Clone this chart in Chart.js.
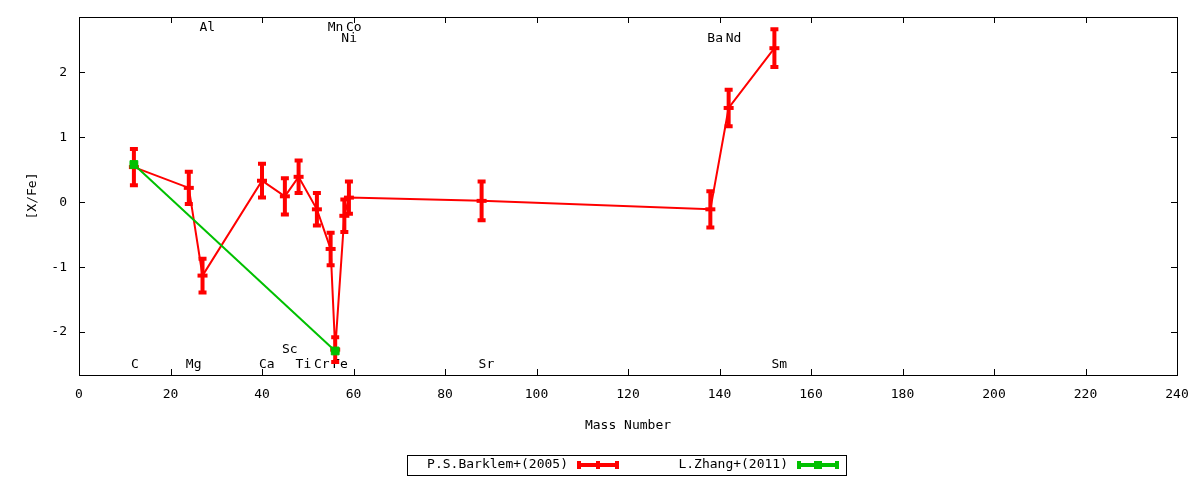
<!DOCTYPE html>
<html>
<head>
<meta charset="utf-8">
<script src="https://cdn.jsdelivr.net/npm/chart.js@4/dist/chart.umd.min.js"></script>
<style>
  body { margin: 0; background: #fff; }
  canvas { display: block; }
</style>
</head>
<body>
<canvas id="abund" width="1200" height="480"></canvas>
<script>
// P.S.Barklem+(2005)
var massBarklem = [12, 24, 27, 40, 45, 48, 52, 55, 56, 58, 59, 88, 138, 142, 152];
var xfeBarklem  = [0.54, 0.22, -1.13, 0.33, 0.09, 0.39, -0.11, -0.72, -2.27, -0.21, 0.07, 0.02, -0.11, 1.45, 2.37];
var errBarklem  = [0.28, 0.25, 0.26, 0.26, 0.28, 0.25, 0.25, 0.25, 0.19, 0.25, 0.25, 0.30, 0.28, 0.28, 0.29];

// L.Zhang+(2011)
var massZhang = [12, 56];
var xfeZhang  = [0.58, -2.29];
var errZhang  = [0, 0];

var xTicks = [0, 20, 40, 60, 80, 100, 120, 140, 160, 180, 200, 220, 240];
var yTicks = [-2, -1, 0, 1, 2];

// element labels (mass number, [X/Fe] height where the name sits)
var elemNames = ['C', 'Mg', 'Al', 'Ca', 'Sc', 'Ti', 'Cr', 'Fe', 'Mn', 'Co', 'Ni', 'Sr', 'Ba', 'Nd', 'Sm'];
var elemMass  = [12, 24, 27, 40, 45, 48, 52, 56, 55, 59, 58, 88, 138, 142, 152];
var elemY     = [-2.5, -2.5, 2.68, -2.5, -2.27, -2.5, -2.5, -2.5, 2.68, 2.68, 2.52, -2.5, 2.52, 2.52, -2.5];

var FONT = "'DejaVu Sans Mono', monospace";

function toPoints(xs, ys) {
  return xs.map(function (m, i) { return { x: m, y: ys[i] }; });
}

// vertical error bars with caps
var errorBars = {
  id: 'errorBars',
  afterDatasetDraw: function (chart, args) {
    var ds = chart.data.datasets[args.index];
    if (!ds.errors) return;
    var sx = chart.scales.x, sy = chart.scales.y, ctx = chart.ctx;
    ctx.save();
    ctx.strokeStyle = ds.borderColor;
    ctx.lineWidth = 4;
    ds.data.forEach(function (p, i) {
      var px = sx.getPixelForValue(p.x);
      var top = sy.getPixelForValue(p.y + ds.errors[i]);
      var bot = sy.getPixelForValue(p.y - ds.errors[i]);
      ctx.beginPath();
      ctx.moveTo(px, top); ctx.lineTo(px, bot);
      ctx.moveTo(px - 4, top); ctx.lineTo(px + 4, top);
      ctx.moveTo(px - 4, bot); ctx.lineTo(px + 4, bot);
      ctx.stroke();
    });
    ctx.restore();
  }
};

// element names inside the plot
var elemLabels = {
  id: 'elemLabels',
  beforeDatasetsDraw: function (chart) {
    var sx = chart.scales.x, sy = chart.scales.y, ctx = chart.ctx;
    ctx.save();
    ctx.font = '13px ' + FONT;
    ctx.fillStyle = '#000';
    ctx.textAlign = 'left';
    ctx.textBaseline = 'middle';
    elemNames.forEach(function (n, i) {
      ctx.fillText(n, sx.getPixelForValue(elemMass[i]) - 3, sy.getPixelForValue(elemY[i]));
    });
    ctx.restore();
  }
};

// gnuplot style border with inward ticks on all sides
var frame = {
  id: 'frame',
  afterDraw: function (chart) {
    var a = chart.chartArea, ctx = chart.ctx;
    var sx = chart.scales.x, sy = chart.scales.y;
    ctx.save();
    ctx.strokeStyle = '#000';
    ctx.lineWidth = 1;
    ctx.strokeRect(Math.round(a.left) + 0.5, Math.round(a.top) + 0.5,
                   Math.round(a.right - a.left), Math.round(a.bottom - a.top));
    ctx.beginPath();
    xTicks.forEach(function (v) {
      var px = Math.round(sx.getPixelForValue(v)) + 0.5;
      ctx.moveTo(px, a.bottom); ctx.lineTo(px, a.bottom - 6);
      ctx.moveTo(px, a.top); ctx.lineTo(px, a.top + 6);
    });
    yTicks.forEach(function (v) {
      var py = Math.round(sy.getPixelForValue(v)) + 0.5;
      ctx.moveTo(a.left, py); ctx.lineTo(a.left + 6, py);
      ctx.moveTo(a.right, py); ctx.lineTo(a.right - 6, py);
    });
    ctx.stroke();
    ctx.restore();
  }
};

// key box under the plot
var keyBox = {
  id: 'keyBox',
  afterDraw: function (chart) {
    var ctx = chart.ctx;
    var slots = [{ tx: 568, x0: 577, x1: 619 }, { tx: 788, x0: 797, x1: 839 }];
    var yc = 465;
    ctx.save();
    ctx.strokeStyle = '#000';
    ctx.lineWidth = 1;
    ctx.strokeRect(407.5, 455.5, 439, 20);
    ctx.font = '13px ' + FONT;
    ctx.fillStyle = '#000';
    ctx.textAlign = 'right';
    ctx.textBaseline = 'middle';
    chart.data.datasets.forEach(function (ds, i) {
      var s = slots[i];
      var xm = (s.x0 + s.x1) / 2;
      ctx.fillStyle = '#000';
      ctx.fillText(ds.label, s.tx, yc);
      ctx.strokeStyle = ds.borderColor;
      ctx.lineWidth = 4;
      ctx.beginPath();
      ctx.moveTo(s.x0, yc); ctx.lineTo(s.x1, yc);
      ctx.moveTo(s.x0 + 2, yc - 4); ctx.lineTo(s.x0 + 2, yc + 4);
      ctx.moveTo(s.x1 - 2, yc - 4); ctx.lineTo(s.x1 - 2, yc + 4);
      ctx.moveTo(xm, yc - 4); ctx.lineTo(xm, yc + 4);
      ctx.stroke();
      if (ds.pointStyle === 'rect') {
        ctx.fillStyle = ds.borderColor;
        ctx.fillRect(xm - 4, yc - 4, 8, 8);
      }
    });
    ctx.restore();
  }
};

var ctx = document.getElementById('abund').getContext('2d');

var data = {
  datasets: [{
    label: 'P.S.Barklem+(2005)',
    data: toPoints(massBarklem, xfeBarklem),
    errors: errBarklem,
    showLine: true,
    borderColor: '#ff0000',
    backgroundColor: '#ff0000',
    borderWidth: 2,
    pointStyle: 'line',
    pointRadius: 5,
    pointBorderWidth: 4,
    pointBorderColor: '#ff0000',
    tension: 0,
    order: 1
  }, {
    label: 'L.Zhang+(2011)',
    data: toPoints(massZhang, xfeZhang),
    errors: errZhang,
    showLine: true,
    borderColor: '#00c000',
    backgroundColor: '#00c000',
    borderWidth: 2,
    pointStyle: 'rect',
    pointRadius: 5.5,
    pointBorderWidth: 1,
    pointBorderColor: '#00c000',
    tension: 0,
    order: 0
  }]
};

var options = {
  responsive: false,
  animation: false,
  layout: { padding: { top: 17, right: 23, left: 25, bottom: 47 } },
  plugins: {
    legend: { display: false },
    tooltip: { enabled: false }
  },
  scales: {
    x: {
      type: 'linear',
      min: 0,
      max: 240,
      afterBuildTicks: function (s) { s.ticks = xTicks.map(function (v) { return { value: v }; }); },
      afterFit: function (s) { s.height = 58; s.paddingLeft = 0; s.paddingRight = 0; },
      grid: { display: false, drawTicks: false },
      border: { display: false },
      ticks: { color: '#000', padding: 12, maxRotation: 0, font: { family: FONT, size: 13 } },
      title: { display: true, text: 'Mass Number', color: '#000', padding: 0, font: { family: FONT, size: 13 } }
    },
    y: {
      type: 'linear',
      min: -2.66,
      max: 2.85,
      afterBuildTicks: function (s) { s.ticks = yTicks.map(function (v) { return { value: v }; }); },
      afterFit: function (s) { s.width = 54; s.paddingTop = 0; s.paddingBottom = 0; },
      grid: { display: false, drawTicks: false },
      border: { display: false },
      ticks: { color: '#000', padding: 12, font: { family: FONT, size: 13 } },
      title: { display: true, text: '[X/Fe]', color: '#000', padding: 0, font: { family: FONT, size: 13 } }
    }
  }
};

var config = {
  type: 'scatter',
  data: data,
  options: options,
  plugins: [elemLabels, errorBars, frame, keyBox]
};

var chart_abund = new Chart(ctx, config);
</script>
</body>
</html>
